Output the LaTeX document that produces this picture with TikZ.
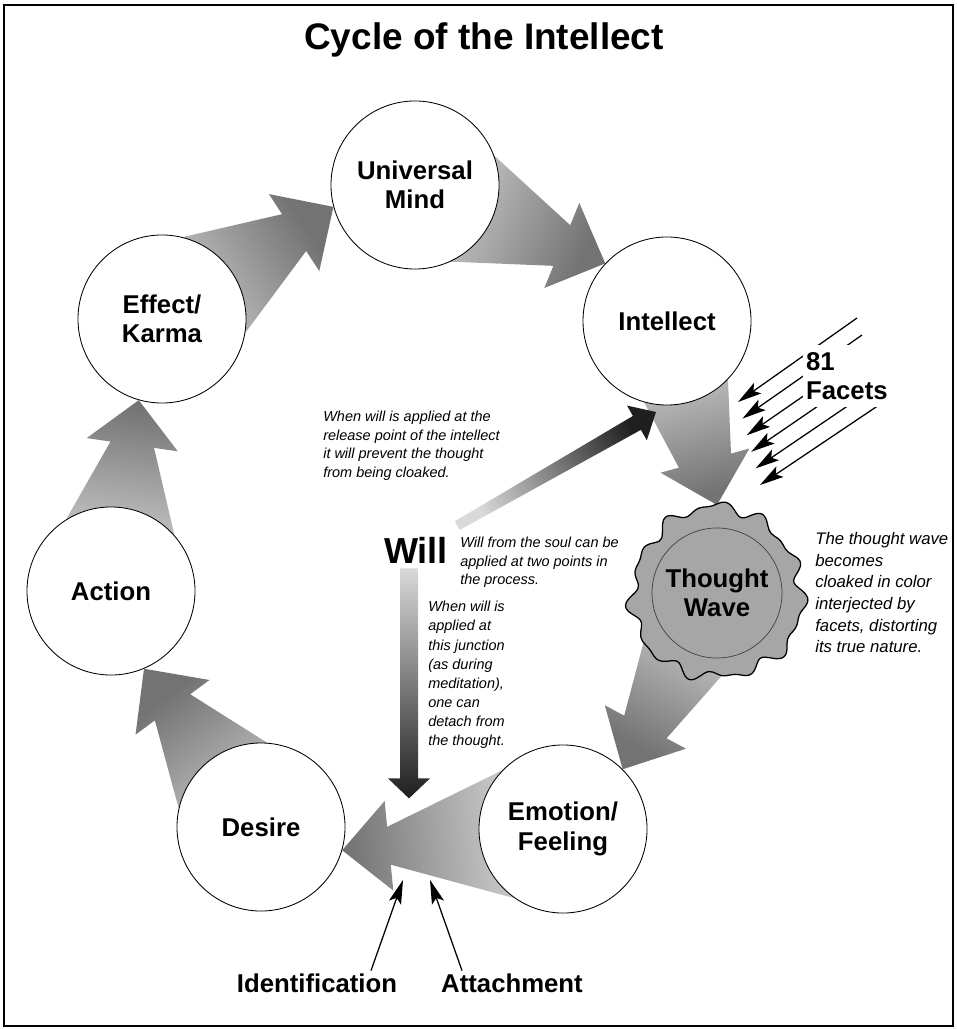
\documentclass[tikz,border=0pt]{standalone}
\usepackage{fontspec}
\setmainfont{Liberation Sans}
\usetikzlibrary{calc,arrows.meta,positioning}

\pgfdeclarelayer{back}
\pgfdeclarelayer{mid}
\pgfsetlayers{back,mid,main}

\def\px{0.71132pt}

% fat shaded arrow from the centre of #2 to #3
% #4 tail, #5 neck, #6 head half widths, #7 head length
\newcommand{\cyclearrow}[7][cycleshade]{%
  \pgfmathanglebetweenpoints{\pgfpointanchor{#2}{center}}{\pgfpointanchor{#3}{center}}%
  \let\arrang\pgfmathresult
  \pgfmathsetmacro{\shang}{\arrang-90}%
  \shade[#1, shading angle=\shang]
    ($(#2)+(\arrang+90:#4*\px)$)
    -- ($(#3)+(\arrang+180:#7*\px)+(\arrang+90:#5*\px)$)
    -- ($(#3)+(\arrang+180:#7*\px)+(\arrang+90:#6*\px)$)
    -- (#3)
    -- ($(#3)+(\arrang+180:#7*\px)+(\arrang-90:#6*\px)$)
    -- ($(#3)+(\arrang+180:#7*\px)+(\arrang-90:#5*\px)$)
    -- ($(#2)+(\arrang-90:#4*\px)$) -- cycle;}

\tikzset{
  stage/.style={circle, draw, line width=0.6pt, fill=white, minimum size=4.2cm,
    inner sep=0pt, align=center, font=\fontsize{18.3}{20.8}\selectfont\bfseries},
  tag/.style={font=\fontsize{18.3}{20.8}\selectfont\bfseries},
  note/.style={align=left, inner sep=0pt, anchor=north west,
    font=\fontsize{10.3}{13.2}\selectfont\itshape},
  facet/.style={line width=0.9pt, -{Stealth[length=17pt, width=9pt, inset=3.5pt]}},
  cycleshade/.style={top color=black!55, bottom color=black!8},
  willshade/.style={top color=black!88, bottom color=black!15},
  seal/.style={draw=black, line width=0.9pt, fill=black!35},
}

\begin{document}
\begin{tikzpicture}[x=0.025cm, y=-0.025cm]
\useasboundingbox (0,0) rectangle (956,1029);
\draw[line width=1.4pt] (4,5) rectangle (953,1026);
\node[font=\fontsize{26.3}{30}\selectfont\bfseries] (title) at (484,40) {Cycle of the Intellect};

% the cycle
\node[stage] (um) at (415,185) {Universal\\Mind};
\node[stage] (intellect) at (667,321) {Intellect};
\node[stage] (emo) at (563,829) {Emotion/\\Feeling};
\node[stage] (desire) at (261,827) {Desire};
\node[stage] (action) at (111,591) {Action};
\node[stage] (effect) at (162,319) {Effect/\\Karma};
\node[circle, draw=black!75, line width=0.5pt, minimum size=3.25cm, inner sep=0pt,
  align=center, font=\fontsize{18.3}{20.8}\selectfont\bfseries] (tw) at (717,593) {Thought\\Wave};

\coordinate (tip1) at (um.195);
\coordinate (tip2) at (intellect.137);
\coordinate (tip3) at ($(tw)+(0,-88)$);
\coordinate (tip4) at (emo.45);
\coordinate (tip5) at (desire.-16);
\coordinate (tip6) at (action.-67);
\coordinate (tip7) at (effect.254);

\begin{pgfonlayer}{back}
\cyclearrow{effect}{tip1}{80}{22}{46}{47}
\cyclearrow{um}{tip2}{80}{22}{46}{47}
\cyclearrow{intellect}{tip3}{60}{27}{46}{46}
\cyclearrow{tw}{tip4}{60}{24}{46}{48}
\cyclearrow{emo}{tip5}{85}{19}{45}{47}
\cyclearrow{desire}{tip6}{80}{22}{46}{48}
\cyclearrow{action}{tip7}{80}{22}{46}{45}
\end{pgfonlayer}

\begin{pgfonlayer}{mid}
\draw[seal, shift={(tw)}] plot[smooth cycle, variable=\t, samples=120, domain=0:357]
  (\t:{85+4*sin(11*\t)+3*sin(17*\t+50)+2*sin(3*\t+10)});
\end{pgfonlayer}

% will
\node[font=\fontsize{25.7}{30}\selectfont\bfseries, inner sep=0pt] (will) at (416,550) {Will};
\coordinate (willsrc) at ($(will.north east)+(9,-11)$);
\coordinate (willtip) at ($(intellect)+(-11,91)$);
\coordinate (willdown) at ($(will.south)+(-7,5)$);
\coordinate (willend) at ($(willdown)+(0,230)$);
\cyclearrow[willshade]{willsrc}{willtip}{5}{8}{20}{22}
\cyclearrow[willshade]{willdown}{willend}{9}{9}{21}{20}

\node[note] (whenup) at (323,411) {When will is applied at the\\release point of the intellect\\it will prevent the thought\\from being cloaked.};
\node[note] (soul) at (460,537) {Will from the soul can be\\applied at two points in\\the process.};
\node[note, font=\fontsize{10.3}{13.6}\selectfont\itshape] (whendown) at (428,601)
  {When will is\\applied at\\this junction\\(as during\\meditation),\\one can\\detach from\\the thought.};
\node[note, font=\fontsize{11.9}{15.4}\selectfont\itshape] (cloak) at (815,532)
  {The thought wave\\becomes\\cloaked in color\\interjected by\\facets, distorting\\its true nature.};

% facets
\foreach \i in {0,...,5}
  \draw[facet] (857+5*\i, 318+17*\i) -- (738+4.4*\i, 402+16.6*\i);
\node[tag, fill=white, align=left, inner xsep=2pt, inner ysep=5pt, anchor=north west] (facets) at (803,345) {81\\Facets};

% identification / attachment
\node[tag] (ident) at (317,983) {Identification};
\node[tag] (attach) at (512,983) {Attachment};
\coordinate (idtip) at (403,880);
\coordinate (attip) at (430,880);
\draw[facet] ($(ident.north)+(54,2)$) -- (idtip);
\draw[facet] ($(attach.north)+(-50,2)$) -- (attip);
\end{tikzpicture}
\end{document}
